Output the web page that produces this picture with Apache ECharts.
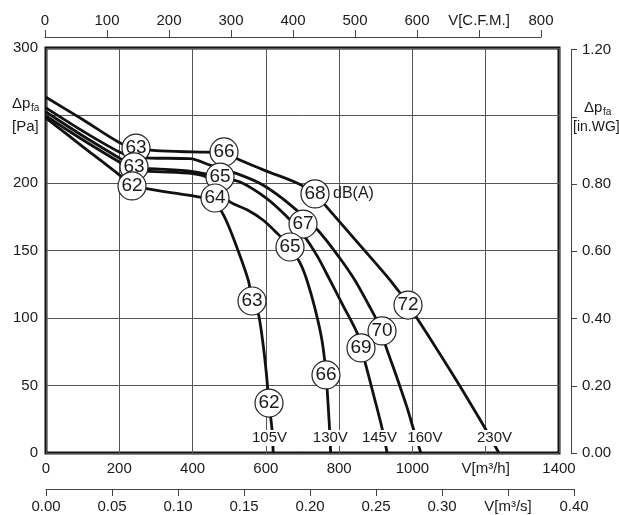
<!DOCTYPE html>
<html>
<head>
<meta charset="utf-8">
<script src="https://cdn.jsdelivr.net/npm/echarts@6/dist/echarts.min.js"></script>
<style>html,body{margin:0;padding:0;background:#fff}#c{width:619px;height:515px}</style>
</head>
<body>
<div id="c"></div>
<script>
// Flow in m3/h, pressure in Pa
const v105 = [[0,248.1],[100,227],[200,206],[235,198],[270,196],[347,192.6],[420,189.6],[455,186.5],[485,176],[520,153],[552,128],[562,114],[579,103.7],[592,81.5],[601,60],[608.6,37],[617,17],[620,0]];
const v130 = [[0,249.6],[100,232],[200,215.5],[240,209.5],[300,208.5],[400,207],[440,204],[470,195.5],[502,186],[550,180],[592,172.6],[630,163],[666,152.6],[693,141],[712,128],[735,106],[753,83.7],[764,60],[768,44],[773,22],[777,0]];
const v145 = [[0,252.6],[100,235],[200,218.5],[240,211.5],[300,210.5],[400,208.5],[448,206],[475,204.4],[530,200.7],[600,189],[650,177],[701,162],[740,146],[775,128],[810,109.6],[849,89],[860,78],[871,67],[895,42],[917,18.5],[931,0]];
const v160 = [[0,255.6],[100,238.5],[200,223],[240,219.5],[284,218.5],[393,218],[450,213],[530,206],[592,198.5],[666,184],[742,165],[800,145],[843,128],[880,110],[917,90.4],[925,81],[955,58],[985,34],[1002,18.5],[1023,0]];
const v230 = [[0,263.5],[100,247],[200,230],[245,226],[300,224],[400,223],[486,222.5],[529,217],[600,209],[685,200],[734,192],[767,182],[850,156],[939,128],[988,110],[1116,55.6],[1198,18.5],[1236,0]];
const noiseMarks = [[245.6,225.9,'63'],[240.2,211.9,'63'],[234.7,197.8,'62'],[485.8,223,'66'],[474.9,204.4,'65'],[461.2,188.9,'64'],[734.1,191.9,'68'],[701.4,169.6,'67'],[665.9,152.6,'65'],[562.2,112.6,'63'],[987.9,109.6,'72'],[917,90.4,'70'],[859.6,77.8,'69'],[764.1,57.8,'66'],[608.6,37,'62']];
const voltLabels = [[610,11.1,'105V'],[776,11.1,'130V'],[910,11.1,'145V'],[1034,11.1,'160V'],[1224,11.1,'230V']];
const dbaMark = [[734.1,191.9,'dB(A)']];
const flowTicks = {min:0, max:1400, interval:200, nameValue:1200, name:'V[m³/h]'};
const presTicks = {min:0, max:300, interval:50, blankValue:250};
const cfmTicks = {min:0, max:800, interval:100, nameValue:700, name:'V[C.F.M.]'};
const m3sTicks = {min:0, max:0.4, interval:0.05, nameValue:0.35, name:'V[m³/s]'};
const inwgTicks = {min:0, max:1.2, interval:0.2, blankValue:1.0};

const FONT = "'Liberation Sans', Arial, sans-serif";
const TXT = '#1a1a1a';
const chart = echarts.init(document.getElementById('c'));
const near = (a,b)=>Math.abs(a-b)<1e-6;
const lineSeries = (name, data) => ({
  name, type:'line', data, xAxisIndex:0, yAxisIndex:0,
  smooth:0.3, symbol:'none',
  lineStyle:{color:'#111', width:2.8}, z:2, silent:true
});
const textLabelSeries = (data, extra) => ({
  type:'scatter', data, xAxisIndex:0, yAxisIndex:0, symbolSize:0,
  itemStyle:{color:'#fff', opacity:1}, silent:true,
  label:Object.assign({show:true, formatter:p=>p.value[2], color:TXT, opacity:1, fontFamily:FONT}, extra)
});
chart.setOption({
  animation:false,
  textStyle:{fontFamily:FONT},
  grid:[
    {left:46, right:60, top:48, bottom:62, show:true, borderColor:'#111', borderWidth:3, backgroundColor:'transparent'},
    {left:45, right:78, top:37, height:10},
    {left:46, right:45, top:479, height:10},
    {left:560, right:48, top:49.5, bottom:62}
  ],
  xAxis:[
    {gridIndex:0, type:'value', min:flowTicks.min, max:flowTicks.max, interval:flowTicks.interval,
     axisLine:{show:false}, axisTick:{show:false},
     splitLine:{show:true, lineStyle:{color:'#555', width:1}},
     axisLabel:{fontSize:15, color:TXT, margin:8, fontFamily:FONT,
       formatter:v=>near(v,flowTicks.nameValue)?flowTicks.name:String(v)}},
    {gridIndex:1, type:'value', position:'top', min:cfmTicks.min, max:cfmTicks.max, interval:cfmTicks.interval,
     axisLine:{show:true, onZero:false, lineStyle:{color:'#444', width:1}},
     axisTick:{show:true, length:7, lineStyle:{color:'#444'}},
     splitLine:{show:false},
     axisLabel:{fontSize:15, color:TXT, margin:9, fontFamily:FONT,
       formatter:v=>near(v,cfmTicks.nameValue)?cfmTicks.name:String(v)}},
    {gridIndex:2, type:'value', position:'bottom', min:m3sTicks.min, max:m3sTicks.max, interval:m3sTicks.interval,
     axisLine:{show:true, onZero:false, lineStyle:{color:'#444', width:1}},
     axisTick:{show:true, length:7, lineStyle:{color:'#444'}},
     splitLine:{show:false},
     axisLabel:{fontSize:15, color:TXT, margin:10, fontFamily:FONT,
       formatter:v=>near(v,m3sTicks.nameValue)?m3sTicks.name:v.toFixed(2)}},
    {gridIndex:3, type:'value', show:false}
  ],
  yAxis:[
    {gridIndex:0, type:'value', min:presTicks.min, max:presTicks.max, interval:presTicks.interval,
     axisLine:{show:false}, axisTick:{show:false},
     splitLine:{show:true, lineStyle:{color:'#555', width:1}},
     axisLabel:{fontSize:15, color:TXT, margin:8, fontFamily:FONT,
       formatter:v=>near(v,presTicks.blankValue)?'':String(v)}},
    {gridIndex:1, type:'value', show:false},
    {gridIndex:2, type:'value', show:false},
    {gridIndex:3, type:'value', position:'right', min:inwgTicks.min, max:inwgTicks.max, interval:inwgTicks.interval,
     axisLine:{show:true, onZero:false, lineStyle:{color:'#444', width:1}},
     axisTick:{show:true, length:6, lineStyle:{color:'#444'}},
     splitLine:{show:false},
     axisLabel:{fontSize:15, color:TXT, margin:11, fontFamily:FONT,
       formatter:v=>near(v,inwgTicks.blankValue)?'':v.toFixed(2)}}
  ],
  graphic:[
    {type:'text', left:12, top:96, style:{text:'Δp', font:'15px '+FONT, fill:TXT}},
    {type:'text', left:31, top:103, style:{text:'fa', font:'10px '+FONT, fill:TXT}},
    {type:'text', left:12, top:119, style:{text:'[Pa]', font:'15px '+FONT, fill:TXT}},
    {type:'text', left:584, top:100, style:{text:'Δp', font:'15px '+FONT, fill:TXT}},
    {type:'text', left:603, top:107, style:{text:'fa', font:'10px '+FONT, fill:TXT}},
    {type:'text', left:573, top:120, style:{text:'[in.WG]', font:'14px '+FONT, fill:TXT}}
  ],
  series:[
    lineSeries('105V', v105),
    lineSeries('130V', v130),
    lineSeries('145V', v145),
    lineSeries('160V', v160),
    lineSeries('230V', v230),
    Object.assign(textLabelSeries(voltLabels, {position:'inside', fontSize:15, backgroundColor:'#fff', padding:[1,1,0,1]}), {z:4}),
    {type:'scatter', data:noiseMarks, xAxisIndex:0, yAxisIndex:0, symbol:'circle', symbolSize:28,
     itemStyle:{color:'#fff', borderColor:'#222', borderWidth:1.2, opacity:1}, z:5, silent:true,
     label:{show:true, position:'inside', formatter:p=>p.value[2], fontSize:19, color:TXT, fontFamily:FONT}},
    Object.assign(textLabelSeries(dbaMark, {position:'right', distance:18, fontSize:16}), {z:5})
  ]
});
</script>
</body>
</html>
